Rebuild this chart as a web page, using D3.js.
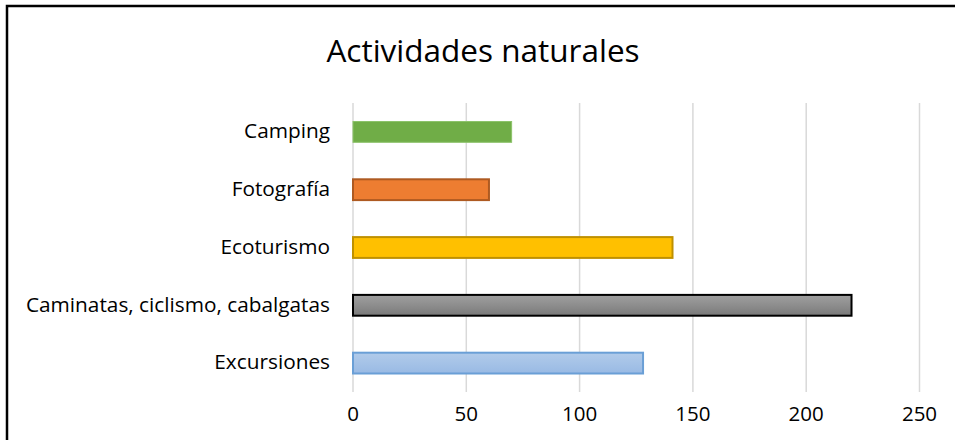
<!DOCTYPE html>
<html>
<head>
<meta charset="utf-8">
<script src="https://cdn.jsdelivr.net/npm/d3@7"></script>
<style>
  body { margin: 0; background: #fff; }
  text { font-family: "Open Sans", Lato, sans-serif; fill: #000; }
</style>
</head>
<body>
<svg id="chart" width="955" height="440"></svg>
<script>
const categories = ["Camping", "Fotografía", "Ecoturismo", "Caminatas, ciclismo, cabalgatas", "Excursiones"];
const values = [70, 60, 141, 220, 128];
const fills = ["#70AD47", "#ED7D31", "#FFC000", "url(#grayGrad)", "url(#blueGrad)"];
const strokes = ["#8cc36a", "#ae5a21", "#bf9000", "#000000", "#6a9fd6"];
const xTicks = [0, 50, 100, 150, 200, 250];

const width = 955, height = 440;
const margin = {left: 353, right: 36, top: 103, bottom: 48};

const svg = d3.select("#chart");

const defs = svg.append("defs");
var grad = (id, c1, c2) => {
    const g = defs.append("linearGradient").attr("id", id)
        .attr("x1", 0).attr("y1", 0).attr("x2", 0).attr("y2", 1);
    g.append("stop").attr("offset", "0%").attr("stop-color", c1);
    g.append("stop").attr("offset", "100%").attr("stop-color", c2);
};
grad("grayGrad", "#a0a0a0", "#7a7a7a");
grad("blueGrad", "#b1cbea", "#99bae4");

svg.append("rect")
    .attr("width", width).attr("height", height)
    .attr("fill", "#fff");

// outer chart frame (cut off at right and bottom)
svg.append("rect")
    .attr("x", 7).attr("y", 6)
    .attr("width", 1000).attr("height", 500)
    .attr("fill", "none")
    .attr("stroke", "#000")
    .attr("stroke-width", 2.5);

svg.append("text")
    .attr("x", 483).attr("y", 62)
    .attr("text-anchor", "middle")
    .style("font-size", "31.5px")
    .text("Actividades naturales");

const x = d3.scaleLinear()
    .domain([0, 250])
    .range([margin.left, width - margin.right + 0.5]);

const y = d3.scaleBand()
    .domain(categories)
    .range([margin.top, height - margin.bottom])
    .paddingInner(0.64)
    .paddingOuter(0.32);

// gridlines
svg.append("g")
    .selectAll("line")
    .data(xTicks)
    .enter().append("line")
      .attr("x1", d => x(d)).attr("x2", d => x(d))
      .attr("y1", margin.top).attr("y2", height - margin.bottom)
      .attr("stroke", "#d9d9d9")
      .attr("stroke-width", 1.5);

// x tick labels
svg.append("g")
    .selectAll("text")
    .data(xTicks)
    .enter().append("text")
      .attr("x", d => x(d))
      .attr("y", 421)
      .attr("text-anchor", "middle")
      .style("font-size", "20.5px")
      .text(d => d);

// bars
svg.append("g")
    .selectAll("rect")
    .data(values)
    .enter().append("rect")
      .attr("x", x(0))
      .attr("y", (d, i) => y(categories[i]))
      .attr("width", d => x(d) - x(0))
      .attr("height", y.bandwidth())
      .attr("fill", (d, i) => fills[i])
      .attr("stroke", (d, i) => strokes[i])
      .attr("stroke-width", (d, i) => i === 0 ? 1 : 2);

// category labels
svg.append("g")
    .selectAll("text")
    .data(categories)
    .enter().append("text")
      .attr("x", 330)
      .attr("y", d => y(d) + y.bandwidth() / 2)
      .attr("dy", "0.3em")
      .attr("text-anchor", "end")
      .style("font-size", "20.8px")
      .text(d => d);
</script>
</body>
</html>
